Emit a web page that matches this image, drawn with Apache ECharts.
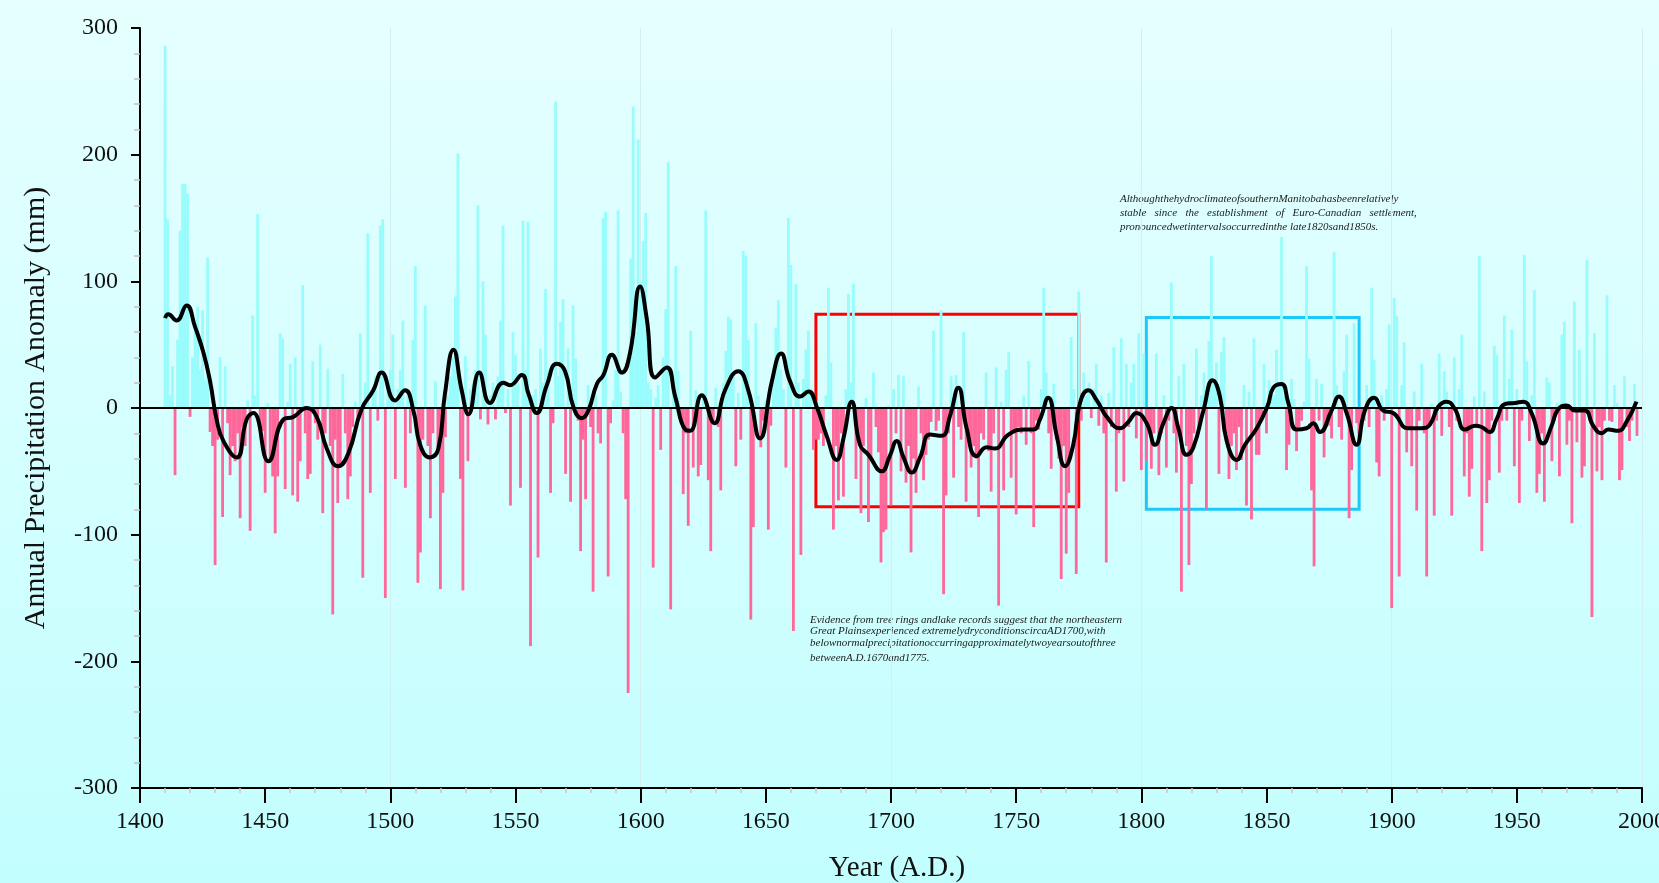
<!DOCTYPE html>
<html><head><meta charset="utf-8">
<script src="https://cdn.jsdelivr.net/npm/echarts@6/dist/echarts.min.js"></script>
<style>html,body{margin:0;padding:0;width:1659px;height:883px;overflow:hidden}#c{width:1659px;height:883px}</style>
</head><body><div id="c"></div><script>
// ---- data ----
const firstYear = 1410;
const anomaly = [
 286,149,10,33,-53,54,140,177,177,169,
 -7,40,62,80,30,77,22,119,-19,-30,
 -124,-25,40,-86,33,-12,-53,-30,-42,-20,
 -87,-15,-30,6,-97,73,10,153,-10,-18,
 -67,4,-42,-54,-99,-54,59,55,-64,5,
 35,-69,40,-74,-42,97,-20,-56,-52,37,
 -12,-25,50,-83,-20,31,-30,-163,-25,-75,
 -47,27,-20,-72,-54,-15,5,-10,59,-134,
 20,138,-67,15,25,-10,144,149,-150,20,
 30,58,-56,15,30,69,-63,10,-20,54,
 112,-138,-114,-25,81,-30,-87,-20,21,-35,
 -143,-67,-23,10,25,40,88,201,-56,-144,
 41,-42,15,20,30,160,-9,100,58,-13,
 10,20,-9,25,69,144,-4,15,-77,60,
 42,20,-63,148,30,147,-188,10,15,-118,
 47,20,94,30,-67,-12,242,25,68,86,
 -52,47,-74,81,39,-10,-113,-25,-72,18,
 -15,-145,10,-20,-28,150,155,-133,-12,6,
 30,156,13,-20,-72,-225,118,238,60,212,
 100,132,154,20,15,-126,8,18,-33,40,
 78,194,-159,20,112,29,-10,-68,-20,-93,
 61,-47,14,-54,-45,10,156,-57,-113,-10,
 16,-15,-65,20,45,72,70,25,-46,12,
 -25,124,120,54,-167,-94,67,10,-31,-10,
 6,-96,-14,20,63,85,30,15,-47,150,
 113,-176,98,20,-116,23,46,61,15,-33,
 -25,-25,-20,-30,10,95,36,-96,-30,-73,
 -20,-70,15,90,20,98,-56,-20,-83,-30,
 8,-90,-40,28,-15,-35,-122,-98,-96,2,
 -77,15,-20,26,-50,25,-59,-30,-114,-40,
 -67,17,-20,-57,-37,-25,-11,61,-18,-10,
 77,-147,-69,-20,25,-55,26,-15,-25,60,
 -74,-20,-47,-30,-40,-86,-20,-25,28,-34,
 -66,-20,32,-156,5,-65,30,44,-55,-20,
 -84,-15,-20,10,-29,37,-20,-94,-10,-17,
 15,95,28,-20,-48,19,-25,-40,-135,-30,
 -115,-67,56,15,-131,92,-10,28,10,20,
 -8,15,35,-14,10,-20,-122,12,-15,48,
 -66,-20,55,-58,35,-15,20,35,-24,59,
 -49,43,-42,-15,-48,-20,43,-53,-20,10,
 -47,-10,99,-20,-51,25,-145,35,-30,-124,
 -60,-20,47,-15,10,28,-80,53,120,20,
 36,-52,44,56,-20,-56,-30,-20,-49,-15,
 -41,18,-77,13,-88,55,-37,-37,-10,35,
 -20,22,15,10,46,20,135,10,-49,-29,
 23,7,-34,-15,-10,5,112,39,-65,-125,
 23,-10,19,-39,-15,-14,-24,123,18,-15,
 -25,29,58,-87,-49,67,-12,-20,-11,-10,
 18,-15,95,38,-43,-54,10,-10,15,66,
 -158,87,73,-133,18,52,-35,-16,-46,13,
 -81,-10,35,-20,-133,-15,3,-85,-10,43,
 -22,29,13,-15,-85,40,-10,15,58,-54,
 -20,-70,-48,9,-15,120,-113,13,-75,-57,
 -10,49,42,-51,-10,73,-10,23,62,-46,
 15,-75,-10,121,37,-26,10,93,-67,-52,
 -20,-74,24,20,-42,-10,4,-54,58,68,
 -29,-10,-91,84,-27,46,-55,-46,117,-10,
 -165,59,-50,-15,-57,-10,89,-10,-11,18,
 4,-57,-49,25,-15,-26,-10,19,-22
];
const years = anomaly.map((v, i) => firstYear + i);

// smoothed curve
const smoothYears = [1410,1411.3,1414.6,1418.6,1422,1425.3,1428,1430.6,1433.3,1438.6,1442.6,1445.3,1451.3,1457.3,1461.3,1466.6,1470.6,1474.6,1479.2,1483.2,1488.5,1493.2,1496.5,1501.9,1505.9,1509.2,1511.9,1515.8,1519.2,1521.8,1525.2,1528.5,1531.2,1535.5,1539.8,1545.1,1547.8,1552.5,1555.2,1558.5,1562.5,1566.5,1569.8,1573.1,1576.5,1579.1,1582.5,1585.1,1588.5,1592.5,1595.8,1599.8,1602.4,1605.8,1610.4,1613.8,1617.8,1619.8,1624.4,1629.5,1633.7,1639,1643,1647.7,1652.4,1656.1,1659.7,1663.7,1667,1670.3,1674.3,1678.3,1681,1684.3,1687.6,1691,1696.3,1699.5,1702.3,1705,1708.3,1711.6,1715.6,1720.2,1723.6,1726.9,1730.2,1734.2,1738.2,1741.5,1746.9,1753.5,1756.9,1759.5,1762.8,1766.2,1769.5,1772.8,1775.5,1778.8,1782.2,1786.2,1791.5,1794.8,1798.1,1802.1,1805.5,1808.8,1812.1,1814.8,1818.1,1820.8,1824.8,1828.5,1831.4,1834.1,1838.1,1841.4,1846.1,1850.5,1852.7,1856,1858.7,1862,1866,1868.7,1871.3,1876,1878.9,1882,1886,1889.3,1893,1896.6,1900.6,1906.6,1911.9,1915.3,1918.6,1921.9,1925.3,1929.3,1933.3,1935.9,1939.2,1941.9,1945.2,1949.2,1952.6,1955.9,1960.5,1963.9,1966.5,1969.9,1973.2,1977.2,1980.5,1983.9,1986.5,1990.5,1993.8,1997.8];
const smoothValues = [71,74,69,81,64,44,21,-9,-26,-39,-9,-4,-42,-9,-7,0,-7,-32,-46,-36,-1,14,28,6,14,-2,-29,-39,-32,11,46,14,-5,28,4,20,18,26,11,-4,18,35,29,1,-8,-2,19,26,42,28,44,96,71,24,32,9,-17,-18,10,-12,14,29,14,-24,21,43,21,9,13,1,-22,-41,-24,5,-29,-37,-50,-38,-26,-39,-51,-39,-21,-22,-6,16,-16,-38,-31,-32,-21,-17,-17,-9,8,-22,-46,-29,4,14,6,-7,-16,-11,-4,-12,-29,-12,0,-16,-37,-31,-2,22,9,-26,-41,-29,-16,2,16,19,4,-17,-16,-12,-19,-2,9,-4,-29,-2,8,-2,-4,-16,-16,-13,1,5,-1,-17,-14,-15,-19,-9,3,4,5,-4,-28,-14,-1,2,-2,-2,-14,-20,-17,-18,-11,5];

const xTicks = {min: 1400, max: 2000, step: 50};
const yTicks = {min: -300, max: 300, step: 100};
const dryBox = [[1670, 74], [1775, -78]];
const wetBox = [[1802, 71.5], [1887, -80]];

const note1 = ['AlthoughthehydroclimateofsouthernManitobahasbeenrelatively',
  'stable   since   the   establishment   of   Euro-Canadian   settlement,',
  'pronouncedwetintervalsoccurredinthe late1820sand1850s.'];
const note2 = ['Evidence from tree rings andlake records suggest that the northeastern',
  'Great Plainsexperienced extremelydryconditionscircaAD1700,with',
  'belownormalprecipitationoccurringapproximatelytwoyearsoutofthree',
  'betweenA.D.1670and1775.'];

// ---- chart ----
const FONT = '"Liberation Serif","Times New Roman",serif';
const chart = echarts.init(document.getElementById('c'));
const barData = years.map((y, i) => [y, anomaly[i]]);
const smoothData = smoothYears.map((y, i) => [y, smoothValues[i]]);

const noteStyle = {fontFamily: FONT, fontStyle: 'italic', fontSize: 11, fill: '#1a1a1a'};
const graphics = [];
[199, 213, 227].forEach((yy, i) => graphics.push({type: 'text', x: 1120, y: yy, style: Object.assign({text: note1[i], textVerticalAlign: 'middle'}, noteStyle)}));
[620, 631, 643, 658].forEach((yy, i) => graphics.push({type: 'text', x: 810, y: yy, style: Object.assign({text: note2[i], textVerticalAlign: 'middle'}, noteStyle)}));

chart.setOption({
  animation: false,
  backgroundColor: new echarts.graphic.LinearGradient(0, 0, 0, 1, [{offset: 0, color: '#e6ffff'}, {offset: 1, color: '#c3fefe'}]),
  grid: {left: 140, right: 17, top: 28, bottom: 95, containLabel: false, outerBoundsMode: 'none'},
  xAxis: [{
    type: 'value', min: xTicks.min, max: xTicks.max, interval: xTicks.step, position: 'bottom',
    axisLine: {onZero: false, lineStyle: {color: '#000', width: 2}},
    axisTick: {length: 15, lineStyle: {color: '#000', width: 2}},
    minorTick: {show: true, splitNumber: 5, length: 5, lineStyle: {color: '#c8c8c8', width: 1.5}},
    axisLabel: {margin: 22, fontFamily: FONT, fontSize: 24, color: '#111', formatter: v => String(v)},
    splitLine: {show: false},
    name: 'Year (A.D.)', nameLocation: 'middle', nameGap: 66,
    nameTextStyle: {fontFamily: FONT, fontSize: 29, color: '#111', padding: [0, 0, 0, 12]}
  }, {
    type: 'value', min: xTicks.min, max: xTicks.max, interval: 100, position: 'top',
    axisLine: {show: false}, axisTick: {show: false}, axisLabel: {show: false},
    splitLine: {show: true, lineStyle: {color: '#d3eeee', width: 1}}
  }],
  yAxis: {
    type: 'value', min: yTicks.min, max: yTicks.max, interval: yTicks.step,
    axisLine: {show: true, lineStyle: {color: '#000', width: 2}},
    axisTick: {show: true, length: 9, lineStyle: {color: '#000', width: 2}},
    minorTick: {show: true, splitNumber: 5, length: 6, lineStyle: {color: '#c0c0c0', width: 1.5}},
    axisLabel: {margin: 22, fontFamily: FONT, fontSize: 24, color: '#111', formatter: v => String(v)},
    splitLine: {show: false},
    name: 'Annual Precipitation Anomaly (mm)', nameLocation: 'middle', nameGap: 89,
    nameTextStyle: {fontFamily: FONT, fontSize: 30, color: '#111'}
  },
  series: [{
    type: 'bar', xAxisIndex: 0, data: barData, barWidth: 2.8, z: 2,
    itemStyle: {color: p => (p.value[1] >= 0 ? '#99fcfc' : '#ff6699')},
    markLine: {silent: true, symbol: 'none', label: {show: false},
      lineStyle: {color: '#000', width: 2, type: 'solid'}, data: [{yAxis: 0}]}
  }, {
    type: 'line', xAxisIndex: 0, data: smoothData, smooth: 0.5, symbol: 'none', z: 5,
    lineStyle: {color: '#000', width: 4},
    markArea: {silent: true, data: [
      [{coord: dryBox[0], itemStyle: {color: 'rgba(0,0,0,0)', borderColor: '#ff0000', borderWidth: 3}}, {coord: dryBox[1]}],
      [{coord: wetBox[0], itemStyle: {color: 'rgba(0,0,0,0)', borderColor: '#1cc8f8', borderWidth: 3}}, {coord: wetBox[1]}]
    ]}
  }],
  graphic: graphics
});
</script></body></html>
